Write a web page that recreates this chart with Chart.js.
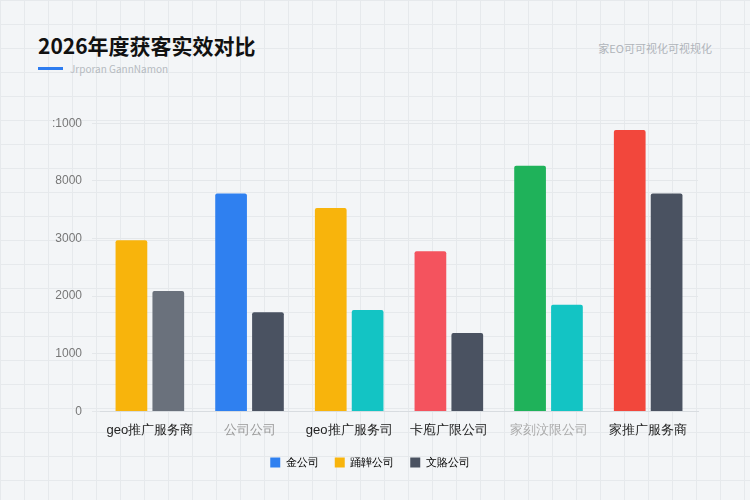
<!DOCTYPE html>
<html>
<head>
<meta charset="utf-8">
<script src="https://cdn.jsdelivr.net/npm/chart.js@4"></script>
<style>
  body { margin: 0; width: 750px; height: 500px; overflow: hidden; font-family: "Noto Sans CJK SC", "Noto Sans", sans-serif;
    background-color: #f3f5f7;
    background-image: linear-gradient(#e6e9ec 1px, transparent 1px), linear-gradient(90deg, #e6e9ec 1px, transparent 1px);
    background-size: 24px 24px; }
  #title { position: absolute; left: 38px; top: 30px; font-size: 21px; font-weight: 700; color: #111; }
  #bar { position: absolute; left: 38px; top: 67px; width: 25px; height: 3px; background: #2d7cf0; }
  #sub { position: absolute; left: 70px; top: 61px; font-size: 10px; color: #b5bac0; }
  #right { position: absolute; right: 38px; top: 40px; font-size: 11px; color: #b0b4ba; }
  #wrap { position: absolute; left: 42px; top: 106px; width: 676px; height: 372px; }
</style>
</head>
<body>
<div id="title">2026年度获客实效对比</div>
<div id="bar"></div>
<div id="sub">Jrporan GannNamon</div>
<div id="right">家EO可可视化可视规化</div>
<div id="wrap"><canvas id="c"></canvas></div>
<script>
const categories = ['geo推广服务商', '公司公司', 'geo推广服务司', '卡庖广限公司', '家刻汶限公司', '家推广服务商'];
const seriesA = [2970, 3780, 3530, 2780, 4260, 4880];
const seriesB = [2090, 1720, 1760, 1360, 1850, 3780];
const colorsA = ['#f8b40c', '#2f80f0', '#f8b40c', '#f4535e', '#1fb25a', '#f2473c'];
const colorsB = ['#6a717c', '#4a5261', '#13c4c4', '#4a5261', '#13c4c4', '#4a5261'];
const tickLabels = ['0', '1000', '2000', '3000', '8000', ':1000'];
const legendNames = ['金公司', '踊韡公司', '文賂公司'];
const legendColors = ['#2f80f0', '#f8b40c', '#4a5261'];
const labelColors = ['#222', '#999', '#222', '#222', '#aaa', '#222'];

new Chart(document.getElementById('c'), {
  type: 'bar',
  data: {
    labels: categories,
    datasets: [
      { label: 'A', data: seriesA, backgroundColor: colorsA, borderRadius: 2 },
      { label: 'B', data: seriesB, backgroundColor: colorsB, borderRadius: 2 }
    ]
  },
  options: {
    responsive: true,
    maintainAspectRatio: false,
    animation: false,
    categoryPercentage: 0.74,
    barPercentage: 0.86,
    layout: { padding: { top: 10, right: 20 } },
    scales: {
      x: {
        grid: { display: false },
        border: { color: '#d8dce0' },
        ticks: { color: labelColors, font: { size: 13 } }
      },
      y: {
        min: 0, max: 5000,
        ticks: { stepSize: 1000, color: '#777', font: { size: 12 }, padding: 10,
          callback: (v) => tickLabels[v / 1000] },
        grid: { color: '#e4e7ea' },
        border: { display: false }
      }
    },
    plugins: {
      tooltip: { enabled: false },
      legend: {
        position: 'bottom',
        labels: {
          boxWidth: 10, boxHeight: 10, padding: 16, color: '#555', font: { size: 11 },
          generateLabels: () => legendNames.map((n, i) => ({
            text: n, fillStyle: legendColors[i], strokeStyle: legendColors[i], lineWidth: 0, datasetIndex: 0
          }))
        }
      }
    }
  }
});
</script>
</body>
</html>
